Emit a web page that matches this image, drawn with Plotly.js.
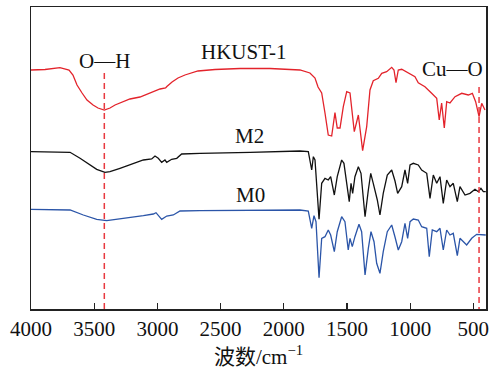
<!DOCTYPE html>
<html><head><meta charset="utf-8">
<script src="https://cdn.plot.ly/plotly-3.0.1.min.js"></script>
<style>html,body{margin:0;padding:0;background:#fff}#chart{width:490px;height:369px}</style>
</head><body><div id="chart"></div>
<script>
// wavenumber (cm^-1) and offset signal (a.u., plotted on a reversed axis)
const hkustWn = [4000,3889,3771,3699,3668,3636,3596,3557,3509,3470,3420,3375,3335,3280,3217,3138,3082,3019,2979,2935,2925,2884,2837,2782,2679,2544,2346,2109,1872,1793,1753,1729,1700,1674,1648,1621,1595,1577,1555,1529,1502,1476,1450,1442,1410,1376,1344,1318,1292,1252,1225,1186,1146,1128,1112,1094,1067,1015,962,936,883,830,790,770,751,730,711,685,645,592,540,508,482,455,434,408];
const hkustVal = [70,69.5,67.7,70,75,85,93,100,105,108,110,108,105,102,99,97,94,91,89,88,86.5,82,78,75,71,69.5,68.5,68.5,70,73,78,87,93,113,135,136,112.7,128,128,106.7,91.7,93,120,131.7,115,150.7,126.7,90,80.7,78.3,73.3,71.7,67.3,70,82.7,70,69.3,72.7,76.7,82.7,86.7,93.3,98.3,120,103,128,101.7,103,96.7,93.3,95,93.3,101.7,116.7,103.3,110];

const m2Wn = [4000,3691,3612,3533,3480,3415,3375,3296,3191,3111,3045,3019,2993,2966,2940,2926,2887,2847,2808,2663,2267,2000,1872,1806,1779,1766,1753,1721,1700,1674,1648,1629,1600,1577,1542,1524,1502,1482,1468,1455,1437,1410,1389,1357,1331,1312,1292,1260,1239,1213,1181,1146,1120,1099,1067,1041,1020,1001,975,936,909,869,843,817,790,764,738,711,685,659,627,606,566,527,487,461,440,421,402];
const m2Val = [151.7,152.3,158.3,165,169.3,172.3,171.7,168.3,163.3,160,159,156,158.3,162.3,160,162.3,159.3,158.3,154,153.3,152.3,151.5,151,151.7,170,156.7,160,219.3,183.3,178.3,180,176.7,195,176.7,160,163.3,183.3,201.7,183.3,193.3,176.7,166.7,173.3,216.7,190,173.3,183.3,200,215,193.3,175,170,181,193.3,186.7,170,183.3,165,163.3,165,170,173.3,198.3,175,183.3,176.7,203.3,180,186.7,183.3,201.7,186.7,195,193.3,189.3,191.7,188.3,191.7,191.7];

const m0Wn = [4000,3691,3586,3480,3401,3243,3111,3032,3011,2966,2926,2874,2821,2663,2267,1872,1806,1779,1761,1745,1721,1700,1674,1648,1629,1600,1577,1542,1516,1490,1476,1458,1437,1405,1384,1357,1331,1310,1286,1265,1239,1213,1181,1146,1120,1094,1067,1041,1020,1001,975,936,909,869,849,825,790,764,738,711,685,659,627,606,553,513,474,434,402];
const m0Val = [209.3,210,215,219.3,220.7,218.3,215.7,214,212.7,219.3,216,215,211,210.7,210,210,211,228.3,215.7,221.7,277.7,238.3,236.7,230,235,251.7,231.7,216.7,221.7,250,238.3,246.7,236.7,224.3,231.7,275,248.3,231.7,241.7,263.3,273.3,251.7,231.7,225,237,250,241.7,223.3,238.3,221.7,219,220,226.7,228.3,256.7,230,231.7,228.3,250,230,235,233.3,255.7,238.3,245,238.3,234.3,235,235];

const markWn = [3420, 455];       // O—H and Cu—O band positions
const markTop = [73, 87];
const tickVals = [4000,3500,3000,2500,2000,1500,1000,500];

const font = "Liberation Serif, 'Times New Roman', 'Noto Sans CJK SC', serif";

const traces = [
  {x: hkustWn, y: hkustVal, mode: 'lines', line: {color: '#e3232b', width: 1.3}},
  {x: m2Wn, y: m2Val, mode: 'lines', line: {color: '#111111', width: 1.3}},
  {x: m0Wn, y: m0Val, mode: 'lines', line: {color: '#2b55a8', width: 1.3}}
];

const shapes = markWn.map((w, i) => ({
  type: 'line', xref: 'x', yref: 'y', x0: w, x1: w, y0: markTop[i], y1: 309,
  line: {color: '#e8393f', width: 1.5, dash: '6px,4px'}
}));

const ann = (x, y, t) => ({x: x, y: y, xref: 'x', yref: 'y', text: t, showarrow: false,
  font: {family: font, size: 21, color: '#111'}, xanchor: 'center', yanchor: 'middle'});

const layout = {
  width: 490, height: 369,
  margin: {l: 31, r: 4, t: 7, b: 60},
  paper_bgcolor: '#fff', plot_bgcolor: '#fff',
  showlegend: false,
  font: {family: font, size: 21, color: '#111'},
  xaxis: {
    range: [4000, 400], tickvals: tickVals, ticks: 'inside', ticklen: 6, tickwidth: 1.3,
    tickcolor: '#222', showline: true, mirror: true, linecolor: '#222', linewidth: 1.5,
    showgrid: false, zeroline: false, tickfont: {family: font, size: 21, color: '#111'},
    title: {text: '波数/cm<sup>−1</sup>', font: {family: font, size: 21, color: '#111'}, standoff: 10}
  },
  yaxis: {
    range: [309, 7], showticklabels: false, ticks: '', showline: true, mirror: true,
    linecolor: '#222', linewidth: 1.5, showgrid: false, zeroline: false
  },
  shapes: shapes,
  annotations: [
    ann(2315, 52, 'HKUST-1'),
    ann(3420, 61, 'O—H'),
    ann(669, 69, 'Cu—O'),
    ann(2275, 136, 'M2'),
    ann(2267, 195, 'M0')
  ]
};

Plotly.newPlot('chart', traces, layout, {displayModeBar: false, staticPlot: true});
</script></body></html>
